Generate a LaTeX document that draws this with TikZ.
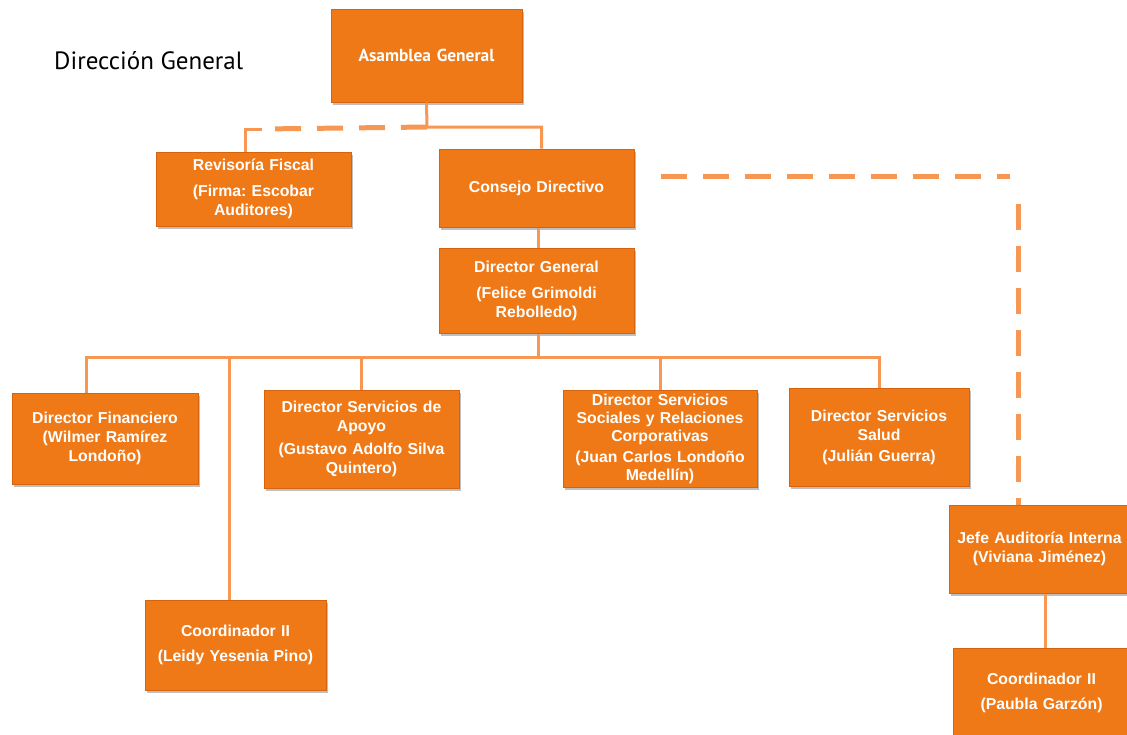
\documentclass[tikz,border=0pt]{standalone}
\usepackage{fontspec}
\setmainfont{Liberation Sans}
\newfontfamily\tah{PT Sans}
\usetikzlibrary{shadows,calc}
\frenchspacing
\definecolor{boxor}{RGB}{239,121,22}
\definecolor{boxedge}{RGB}{214,100,14}
\definecolor{lineor}{RGB}{246,152,84}
\tikzset{
  orgbox/.style={draw=boxedge, line width=1pt, fill=boxor, text=white,
    font=\bfseries\fontsize{15.8}{19}\selectfont, align=center, inner sep=0pt,
    drop shadow={opacity=0.5, shadow xshift=2pt, shadow yshift=-2.5pt}},
  conn/.style={draw=lineor, line width=3pt},
  dconn/.style={draw=lineor, line width=5pt, dash pattern=on 26pt off 16pt}
}
\begin{document}
\begin{tikzpicture}[x=1pt,y=-1pt]
\useasboundingbox (0,0) rectangle (1127,734);
\node[anchor=west, inner sep=0pt, font=\tah\fontsize{25}{28}\selectfont] (title) at (54,61) {Dirección General};

% boxes
\node[orgbox, minimum width=191, minimum height=93, text width=185, font=\tah\bfseries\fontsize{17.4}{20}\selectfont] (asam) at (426.5,55.5) {Asamblea General};
\node[orgbox, minimum width=195, minimum height=74, text width=190] (rev) at (253.5,189) {Revisoría Fiscal\\[7pt](Firma: Escobar\\Auditores)};
\node[orgbox, minimum width=195, minimum height=78, text width=190] (cons) at (536.5,188) {Consejo Directivo};
\node[orgbox, minimum width=195, minimum height=85, text width=190] (dg) at (536.5,290.5) {Director General\\[7pt](Felice Grimoldi\\Rebolledo)};
\node[orgbox, minimum width=186, minimum height=91, text width=184] (fin) at (105,438.5) {Director Financiero\\(Wilmer Ramírez\\Londoño)};
\node[orgbox, minimum width=195, minimum height=98, text width=193] (apoyo) at (361.5,439) {Director Servicios de\\Apoyo\\[4pt](Gustavo Adolfo Silva\\Quintero)};
\node[orgbox, minimum width=194, minimum height=97, text width=193, font=\bfseries\fontsize{15.8}{17.8}\selectfont] (dssrc) at (660,439) {Director Servicios\\Sociales y Relaciones\\Corporativas\\[3pt](Juan Carlos Londoño\\Medellín)};
\node[orgbox, minimum width=180, minimum height=98, text width=178] (salud) at (879,437) {Director Servicios\\Salud\\[2pt](Julián Guerra)};
\node[orgbox, minimum width=181, minimum height=88, text width=180] (jefe) at (1039.5,549) {Jefe Auditoría Interna\\(Viviana Jiménez)};
\node[orgbox, minimum width=181, minimum height=90, text width=180] (coordL) at (235.5,645) {Coordinador II\\[6pt](Leidy Yesenia Pino)};
\node[orgbox, minimum width=177, minimum height=90, text width=175] (coordP) at (1041.5,693) {Coordinador II\\[6pt](Paubla Garzón)};

% connectors
\coordinate (j1) at (427,127);
\draw[conn] (asam.south) -- (j1) -| ([xshift=5pt]cons.north);
\draw[dconn] (j1) -- (262,129);
\draw[conn] (262,129) -| ([xshift=-8pt]rev.north);
\draw[conn] ([xshift=1.5pt]cons.south) -- ([xshift=1.5pt]dg.north);
\coordinate (j2) at (538,357);
\draw[conn] ([xshift=1.5pt]dg.south) -- (j2);
\draw[conn] ([xshift=-19pt]fin.north) |- (j2) -| (salud.north);
\draw[conn] (coordL.north -| 229,0) -- (229,357);
\draw[conn] (apoyo.north) -- (apoyo.north |- j2);
\draw[conn] (dssrc.north) -- (dssrc.north |- j2);
\coordinate (d1) at (1018,176);
\draw[dconn] ($(cons.east)+(26,-12)$) -- (1010,176);
\draw[dconn, dash phase=-6pt] (1018,198) -- (jefe.north -| d1);
\draw[conn] ([xshift=6pt]jefe.south) -- ([xshift=4pt]coordP.north);
\end{tikzpicture}
\end{document}
